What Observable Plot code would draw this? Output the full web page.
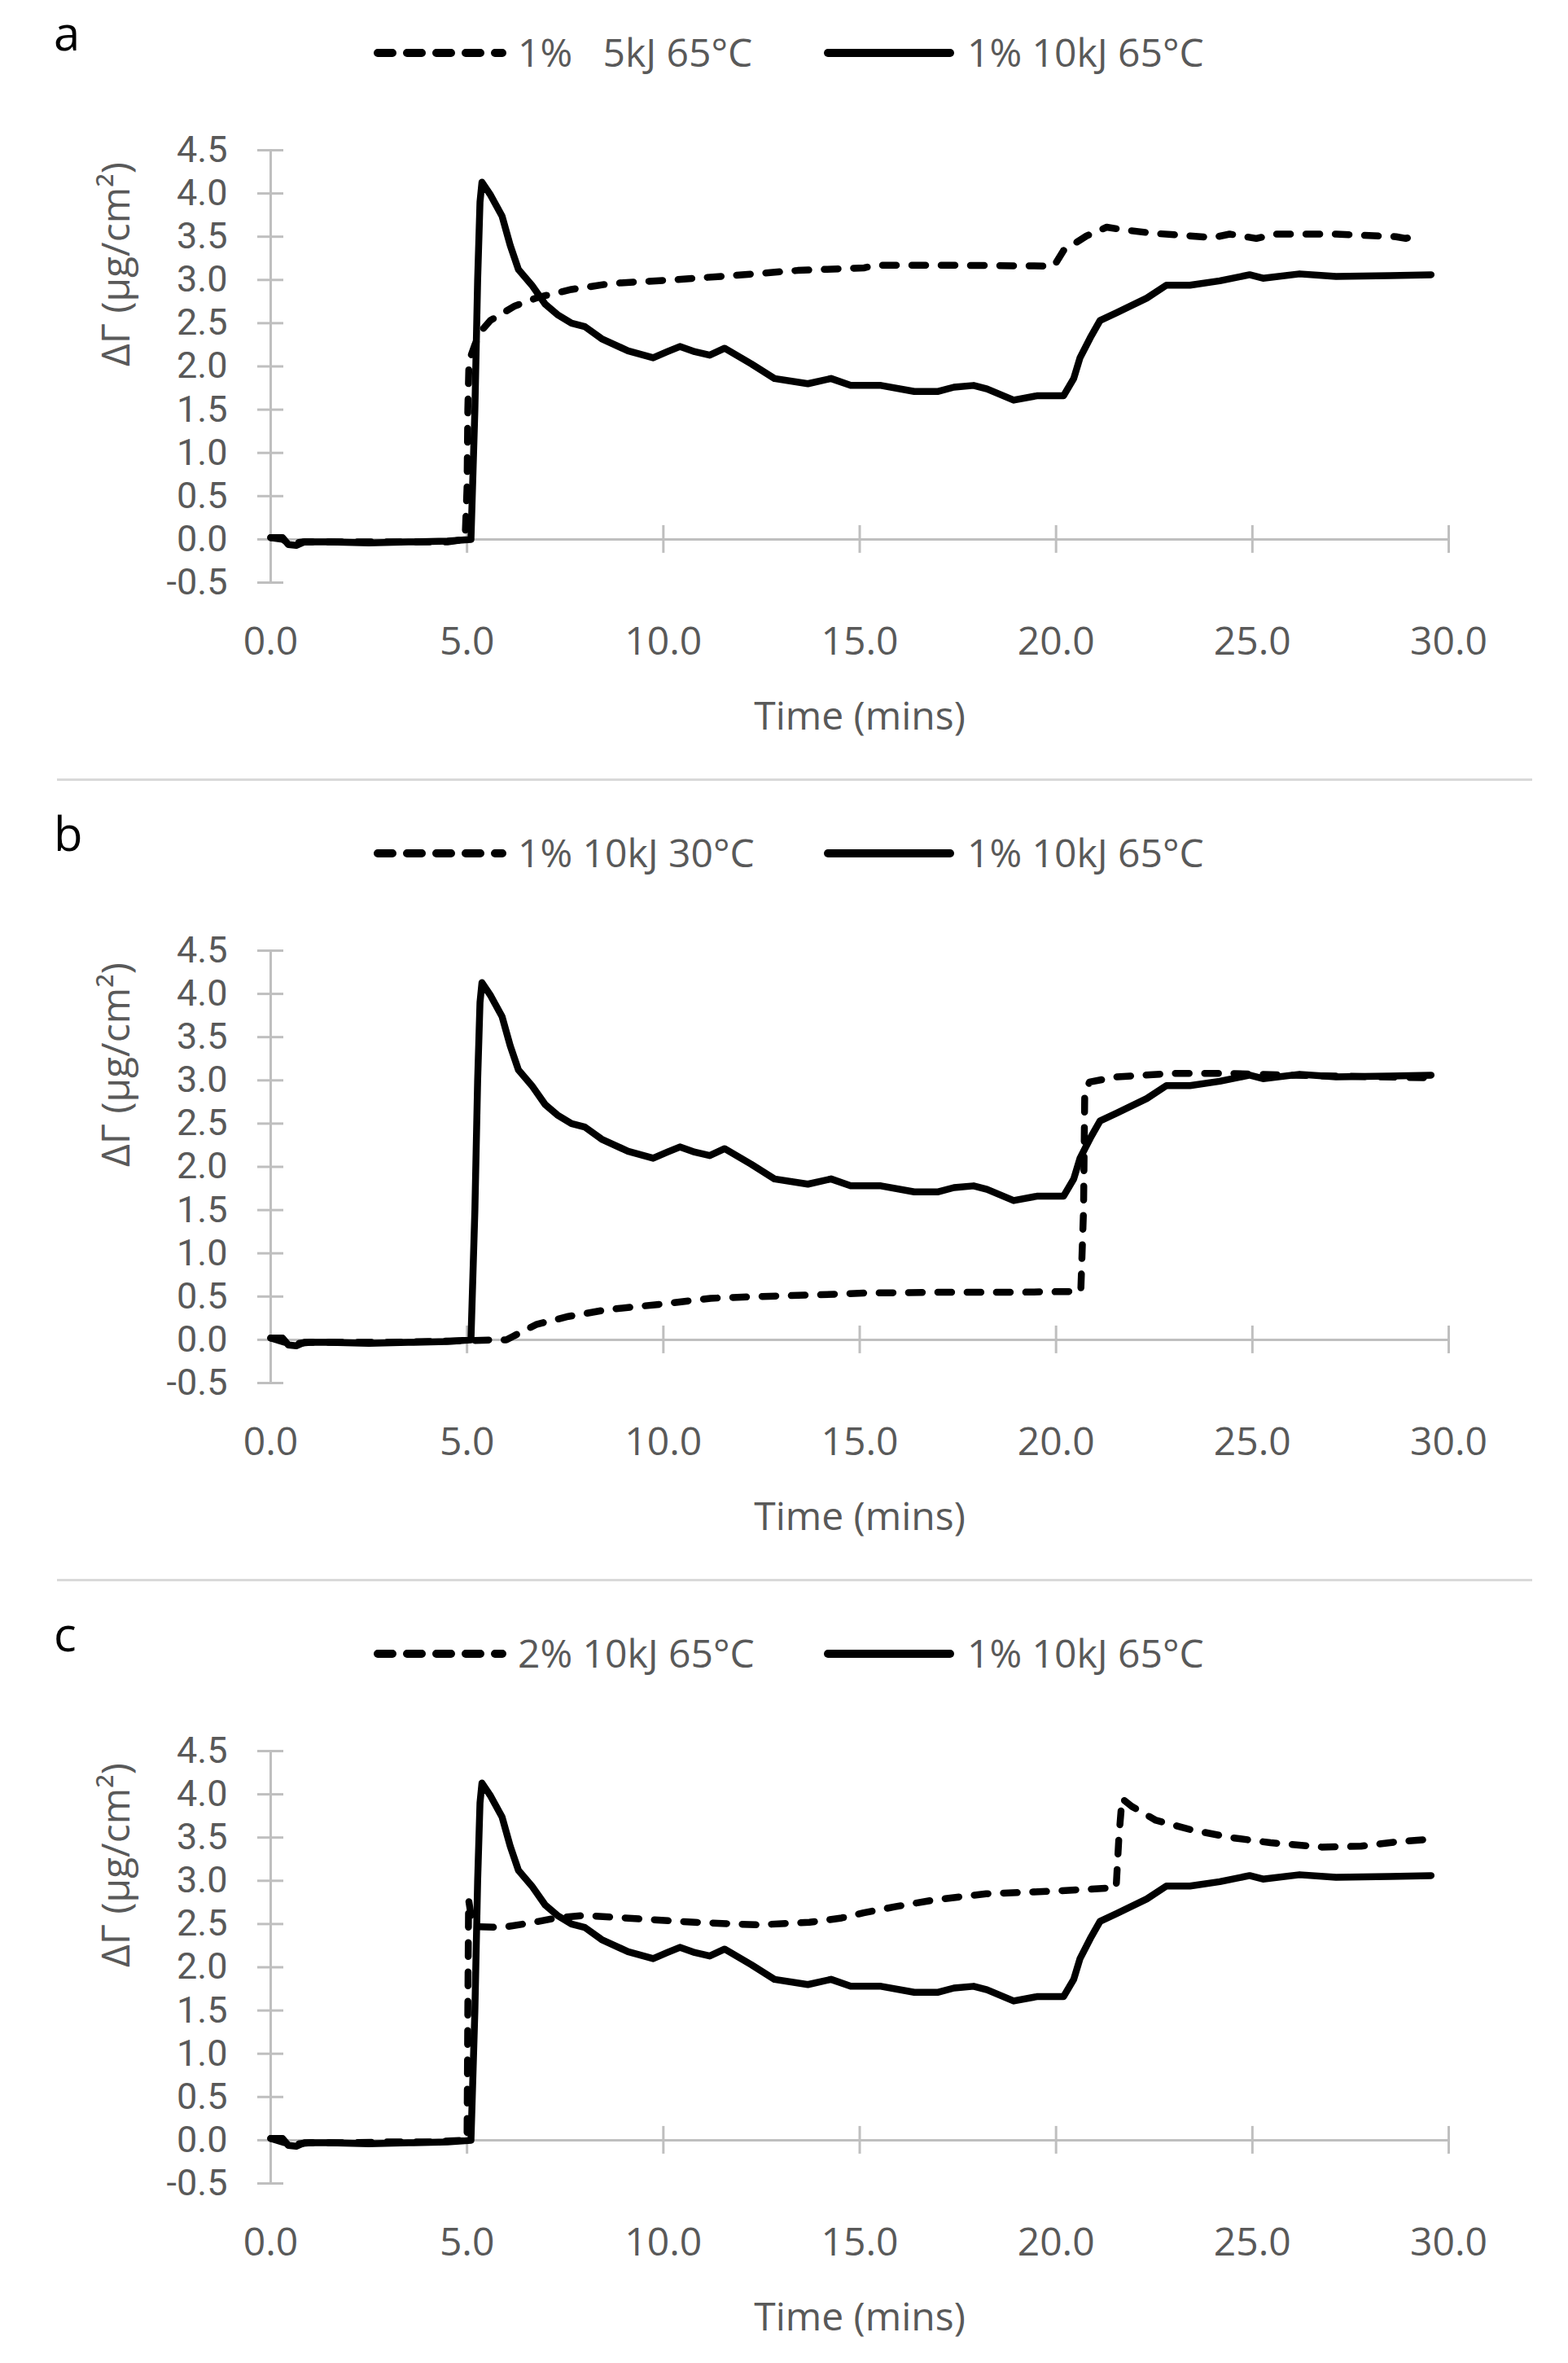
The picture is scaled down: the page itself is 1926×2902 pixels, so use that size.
<!DOCTYPE html>
<html>
<head>
<meta charset="utf-8">
<script src="https://cdn.jsdelivr.net/npm/d3@7"></script>
<script src="https://cdn.jsdelivr.net/npm/@observablehq/plot@0.6"></script>
<style>
  html, body { margin: 0; padding: 0; background: #fff; }
  body { width: 1926px; height: 2902px; position: relative; overflow: hidden; font-family: "Open Sans", sans-serif; }
  .abs { position: absolute; }
  .letter { font-size: 58px; line-height: 58px; color: #000; }
  .legtxt { font-size: 48px; line-height: 48px; color: #595959; white-space: pre; }
  .sep { background: #d9d9d9; height: 3px; }
</style>
</head>
<body>
<script>
// ---------------- data ----------------
const panelLetters = ["a", "b", "c"];
const dashedLabels = ["1%   5kJ 65°C", "1% 10kJ 30°C", "2% 10kJ 65°C"];
const solidLabel = "1% 10kJ 65°C";
const xTicks = [0, 5, 10, 15, 20, 25, 30];
const yTicks = [-0.5, 0, 0.5, 1, 1.5, 2, 2.5, 3, 3.5, 4, 4.5];
const xTitle = "Time (mins)";
const yTitle = "ΔΓ (µg/cm²)";

// 1% 10kJ 65°C (solid, same in all panels)
const ref10kJ65T = [0, 0.3, 0.45, 0.65, 0.85, 1.5, 2.5, 3.5, 4.5, 5.1, 5.2, 5.27, 5.33, 5.38, 5.6, 5.89, 6.1, 6.31, 6.65, 6.99, 7.3, 7.66, 8.0, 8.43, 9.1, 9.74, 10.1, 10.42, 10.8, 11.18, 11.56, 12.24, 12.83, 13.68, 14.27, 14.77, 15.54, 16.39, 16.98, 17.4, 17.9, 18.24, 18.92, 19.51, 20.19, 20.45, 20.61, 20.87, 21.12, 21.54, 22.31, 22.81, 23.41, 24.17, 24.93, 25.27, 26.2, 27.13, 28.5, 29.55];
const ref10kJ65V = [0.02, 0.02, -0.06, -0.07, -0.03, -0.03, -0.04, -0.03, -0.02, 0.0, 1.5, 3.0, 3.9, 4.13, 3.98, 3.74, 3.4, 3.12, 2.94, 2.72, 2.6, 2.5, 2.46, 2.32, 2.18, 2.1, 2.17, 2.23, 2.17, 2.13, 2.21, 2.03, 1.86, 1.8, 1.86, 1.78, 1.78, 1.71, 1.71, 1.76, 1.78, 1.74, 1.61, 1.66, 1.66, 1.86, 2.1, 2.33, 2.53, 2.62, 2.79, 2.94, 2.94, 2.99, 3.06, 3.02, 3.07, 3.04, 3.05, 3.06];

// a: 1% 5kJ 65°C (dashed)
const a5kJ65T = [0, 0.3, 0.5, 0.8, 1.5, 2.5, 3.5, 4.5, 4.95, 5.0, 5.02, 5.05, 5.2, 5.34, 5.59, 6.22, 6.82, 7.66, 8.68, 10.21, 11.73, 13.42, 15.12, 15.37, 17.4, 19.93, 20.0, 20.19, 20.78, 21.29, 21.71, 22.47, 24.0, 24.42, 25.1, 25.61, 27.13, 28.66, 28.91, 29.25];
const a5kJ65V = [0.02, 0.0, -0.05, -0.03, -0.03, -0.03, -0.03, -0.03, 0.0, 0.6, 1.5, 2.06, 2.25, 2.4, 2.53, 2.7, 2.8, 2.89, 2.96, 3.0, 3.05, 3.11, 3.14, 3.17, 3.17, 3.16, 3.2, 3.34, 3.51, 3.61, 3.58, 3.54, 3.49, 3.53, 3.48, 3.53, 3.53, 3.5, 3.48, 3.53];

// b: 1% 10kJ 30°C (dashed)
const b10kJ30T = [0, 0.5, 1, 2, 3, 4, 5, 5.77, 6.0, 6.17, 6.78, 7.58, 8.59, 9.9, 11.2, 12.41, 13.92, 15.1, 17, 19, 20.63, 20.7, 20.73, 20.85, 21.53, 22.94, 24.45, 25.96, 29.48];
const b10kJ30V = [0.02, -0.05, -0.03, -0.03, -0.03, -0.02, -0.01, 0.0, 0.0, 0.04, 0.18, 0.27, 0.35, 0.41, 0.48, 0.5, 0.52, 0.54, 0.55, 0.55, 0.56, 1.5, 2.83, 2.98, 3.04, 3.08, 3.08, 3.06, 3.03];

// c: 2% 10kJ 65°C (dashed)
const c2pc65T = [0, 0.5, 1, 2, 3, 4, 5.0, 5.02, 5.04, 5.12, 5.27, 5.87, 6.58, 7.28, 7.99, 9.39, 10.8, 12.41, 13.72, 14.54, 15.1, 15.9, 16.91, 18.22, 19.92, 21.53, 21.6, 21.68, 21.93, 22.54, 23.44, 24.45, 25.46, 26.76, 27.77, 28.67, 29.51];
const c2pc65V = [0.02, -0.05, -0.03, -0.03, -0.02, -0.02, 0.0, 1.5, 2.78, 2.55, 2.47, 2.46, 2.51, 2.57, 2.6, 2.56, 2.52, 2.49, 2.52, 2.57, 2.63, 2.7, 2.78, 2.85, 2.88, 2.92, 3.5, 3.95, 3.86, 3.7, 3.59, 3.5, 3.44, 3.39, 3.4, 3.45, 3.48];

const dashedT = [a5kJ65T, b10kJ30T, c2pc65T];
const dashedV = [a5kJ65V, b10kJ30V, c2pc65V];

// ---------------- layout ----------------
const W = 1926, PANEL = 983, SVG_TOP = 130, SVG_H = 790;
const mTop = 54, mBottom = 205, mLeft = 332, mRight = 147;
const gray = "#bfbfbf", textGray = "#595959";
const pxPerMin = (W - mLeft - mRight) / 30;
const pxPerUnit = (SVG_H - mTop - mBottom) / 5;
const yTickHalf = 16 / pxPerMin;   // horizontal half-length of y ticks
const xTickHalf = 17 / pxPerUnit;  // vertical half-length of x ticks

function el(tag, cls, css, text) {
  const e = document.createElement(tag);
  if (cls) e.className = cls;
  Object.assign(e.style, css);
  if (text != null) e.textContent = text;
  document.body.appendChild(e);
  return e;
}

function legendLine(x1, x2, y, dashed) {
  const ns = "http://www.w3.org/2000/svg";
  const s = document.createElementNS(ns, "svg");
  s.setAttribute("width", W); s.setAttribute("height", 40);
  s.style.position = "absolute"; s.style.left = "0px"; s.style.top = (y - 20) + "px";
  s.style.overflow = "visible";
  const l = document.createElementNS(ns, "line");
  l.setAttribute("x1", x1); l.setAttribute("x2", x2);
  l.setAttribute("y1", 20); l.setAttribute("y2", 20);
  l.setAttribute("stroke", "#000"); l.setAttribute("stroke-width", 10);
  l.setAttribute("stroke-linecap", "round");
  if (dashed) l.setAttribute("stroke-dasharray", "18,18");
  s.appendChild(l);
  document.body.appendChild(s);
}

for (let i = 0; i < 3; i++) {
  const off = i * PANEL;
  // panel letter
  el("div", "abs letter", {left: "66px", top: (off + 11) + "px"}, panelLetters[i]);
  // legend
  legendLine(464, 617, off + 65, true);
  el("div", "abs legtxt", {left: "636px", top: (off + 40) + "px"}, dashedLabels[i]);
  legendLine(1017, 1167, off + 65, false);
  el("div", "abs legtxt", {left: "1188px", top: (off + 40) + "px"}, solidLabel);
  // separator
  if (i < 2) el("div", "abs sep", {left: "70px", width: "1812px", top: (off + 956) + "px"});

  const chart = Plot.plot({
    width: W,
    height: SVG_H,
    marginTop: mTop, marginBottom: mBottom, marginLeft: mLeft, marginRight: mRight,
    style: {fontFamily: "Open Sans", fontSize: "48px", color: textGray, background: "transparent", overflow: "visible"},
    x: {domain: [0, 30]},
    y: {domain: [-0.5, 4.5]},
    marks: [
      // axis lines and crossing ticks
      Plot.ruleY([0], {x1: 0, x2: 30, stroke: gray, strokeWidth: 3}),
      Plot.ruleX([0], {y1: -0.5, y2: 4.5, stroke: gray, strokeWidth: 3}),
      Plot.ruleX(xTicks, {x: d => d, y1: -xTickHalf, y2: xTickHalf, stroke: gray, strokeWidth: 3}),
      Plot.ruleY(yTicks, {y: d => d, x1: -yTickHalf, x2: yTickHalf, stroke: gray, strokeWidth: 3}),
      Plot.axisX({ticks: xTicks, tickFormat: d => d.toFixed(1), tickSize: 0, tickPadding: 54, label: null, fill: textGray, fontFamily: "Open Sans", fontSize: 48}),
      Plot.axisY({ticks: yTicks, tickFormat: d => d.toFixed(1), tickSize: 0, tickPadding: 53, label: null, fill: textGray, fontFamily: "Roboto", fontSize: 45}),
      Plot.text([yTitle], {frameAnchor: "left", dx: -189, rotate: -90, fill: textGray, fontSize: 48, lineAnchor: "middle"}),
      Plot.text([xTitle], {frameAnchor: "bottom", dy: 165, fill: textGray, fontSize: 48, lineAnchor: "middle"}),
      // data
      Plot.line(dashedT[i], {x: dashedT[i], y: dashedV[i], stroke: "#000", strokeWidth: 8.5, strokeLinecap: "round", strokeLinejoin: "round", strokeDasharray: "17,19"}),
      Plot.line(ref10kJ65T, {x: ref10kJ65T, y: ref10kJ65V, stroke: "#000", strokeWidth: 8.5, strokeLinecap: "round", strokeLinejoin: "round"})
    ]
  });
  chart.style.position = "absolute";
  chart.style.left = "0px";
  chart.style.top = (off + SVG_TOP) + "px";
  document.body.appendChild(chart);
}
</script>
</body>
</html>
